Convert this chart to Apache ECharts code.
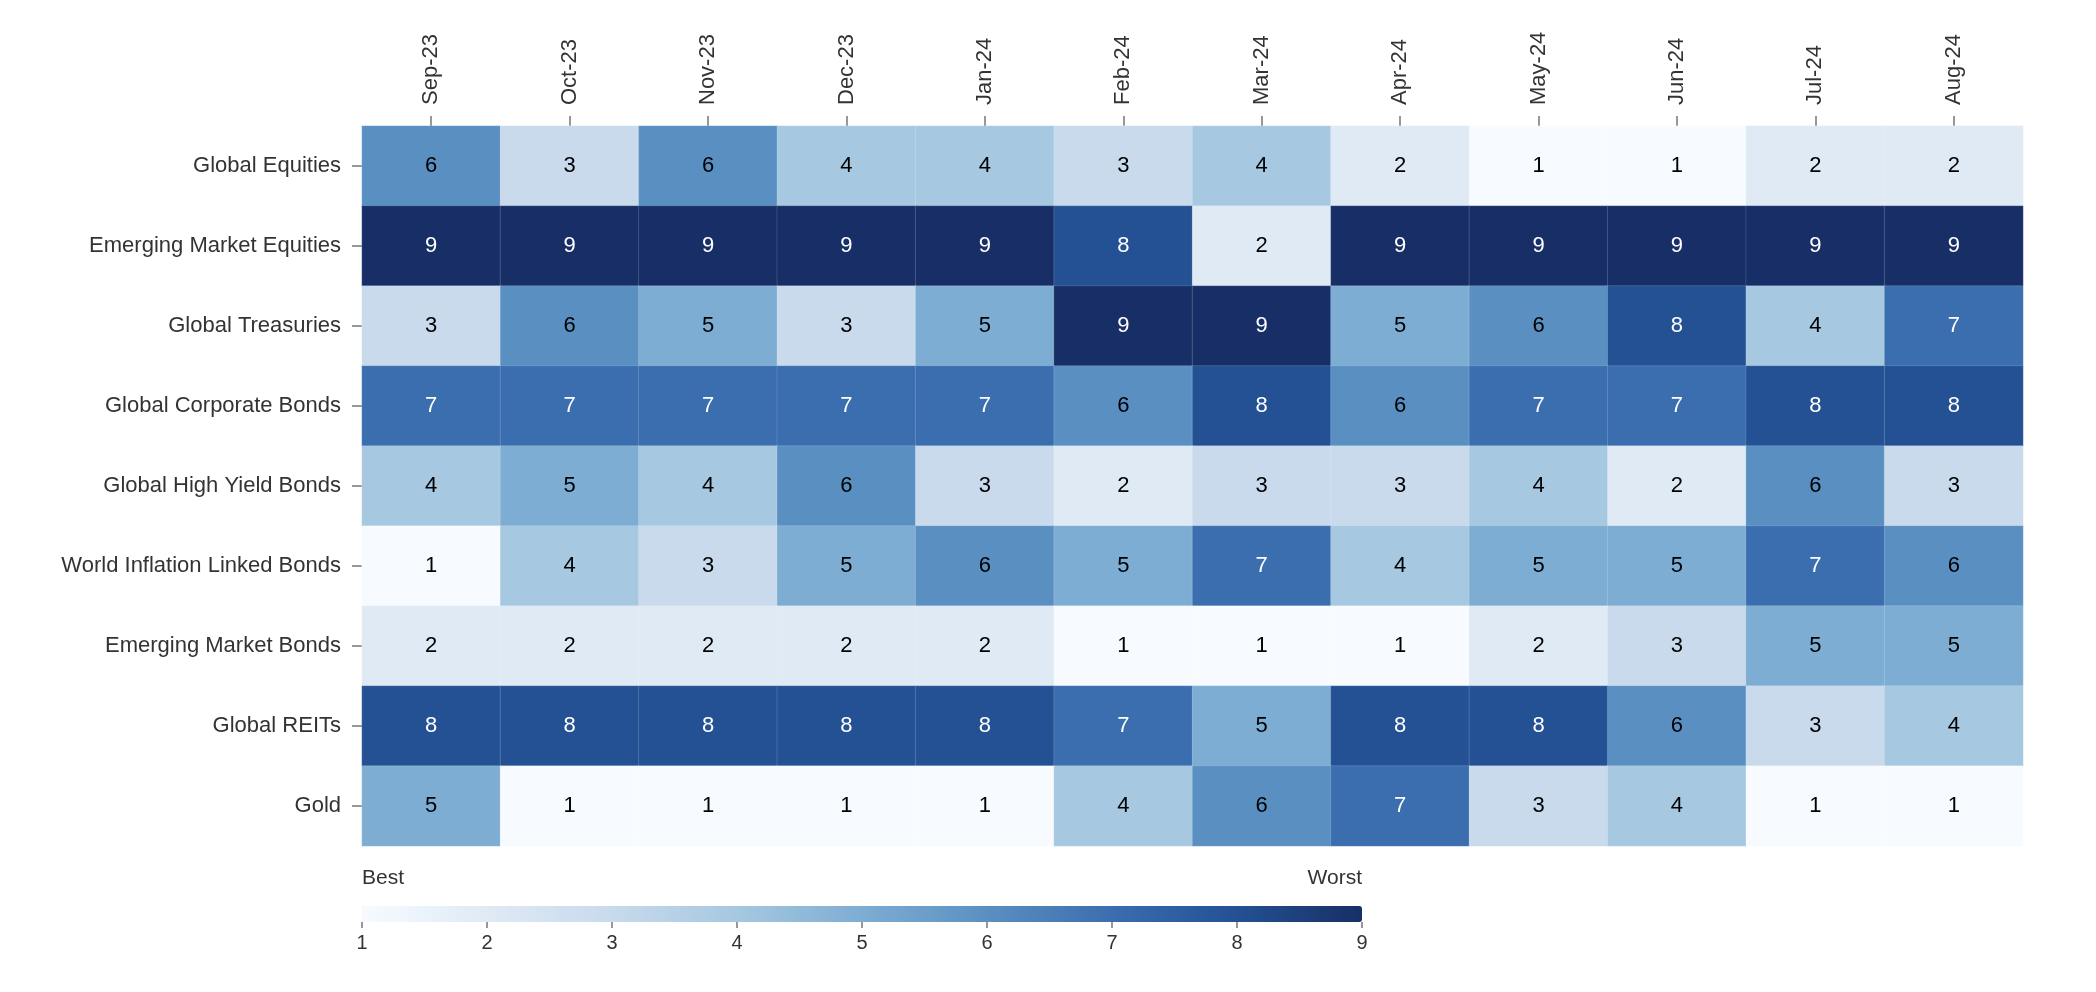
<!DOCTYPE html>
<html>
<head>
<meta charset="utf-8">
<script src="https://cdn.jsdelivr.net/npm/echarts@6/dist/echarts.min.js"></script>
<style>
html,body{margin:0;padding:0;background:#fff;}
#chart{width:2096px;height:992px;}
</style>
</head>
<body>
<div id="chart"></div>
<script>
const months = ['Sep-23','Oct-23','Nov-23','Dec-23','Jan-24','Feb-24','Mar-24','Apr-24','May-24','Jun-24','Jul-24','Aug-24'];
const assets = ['Global Equities','Emerging Market Equities','Global Treasuries','Global Corporate Bonds','Global High Yield Bonds','World Inflation Linked Bonds','Emerging Market Bonds','Global REITs','Gold'];
const globalEquities      = [6,3,6,4,4,3,4,2,1,1,2,2];
const emEquities          = [9,9,9,9,9,8,2,9,9,9,9,9];
const globalTreasuries    = [3,6,5,3,5,9,9,5,6,8,4,7];
const globalCorporate     = [7,7,7,7,7,6,8,6,7,7,8,8];
const globalHighYield     = [4,5,4,6,3,2,3,3,4,2,6,3];
const worldInflation      = [1,4,3,5,6,5,7,4,5,5,7,6];
const emBonds             = [2,2,2,2,2,1,1,1,2,3,5,5];
const globalREITs         = [8,8,8,8,8,7,5,8,8,6,3,4];
const gold                = [5,1,1,1,1,4,6,7,3,4,1,1];
const rows = [globalEquities, emEquities, globalTreasuries, globalCorporate, globalHighYield, worldInflation, emBonds, globalREITs, gold];
const colorbarTicks = [1,2,3,4,5,6,7,8,9];

const palette = ['#f7fbff','#dfeaf5','#c8daec','#a6c8e1','#7eadd3','#5a90c1','#3a6eae','#245193','#172f66'];
const FONT = 'Liberation Sans, Arial, Helvetica, sans-serif';

const data = [];
rows.forEach((row, r) => {
  row.forEach((v, c) => {
    data.push({value: [c, r, v], label: {color: v >= 7 ? '#ffffff' : '#000000'}});
  });
});

const chart = echarts.init(document.getElementById('chart'), null, {renderer: 'canvas'});
chart.setOption({
  backgroundColor: '#ffffff',
  animation: false,
  textStyle: {fontFamily: FONT},
  grid: [
    {left: 362, top: 126, width: 1661, height: 720},
    {left: 362, top: 906, width: 1000, height: 16}
  ],
  xAxis: [
    {
      type: 'category', data: months, position: 'top', gridIndex: 0,
      axisLine: {show: false},
      axisTick: {show: true, length: 10, alignWithLabel: true, lineStyle: {color: '#777', width: 1.5}},
      axisLabel: {rotate: -90, margin: 21, fontSize: 22, color: '#333', fontFamily: FONT},
      splitLine: {show: false}
    },
    {
      type: 'value', gridIndex: 1, min: 1, max: 9, interval: 1, position: 'bottom',
      axisLine: {show: false},
      axisTick: {show: true, length: 6, lineStyle: {color: '#777', width: 1.5}},
      axisLabel: {margin: 11, fontSize: 20, color: '#333', fontFamily: FONT,
        formatter: v => colorbarTicks.includes(v) ? String(v) : ''},
      splitLine: {show: false}
    }
  ],
  yAxis: [
    {
      type: 'category', data: assets, inverse: true, gridIndex: 0,
      axisLine: {show: false},
      axisTick: {show: true, length: 10, alignWithLabel: true, lineStyle: {color: '#777', width: 1.5}},
      axisLabel: {margin: 21, fontSize: 22, color: '#333', fontFamily: FONT},
      splitLine: {show: false}
    },
    {
      type: 'value', gridIndex: 1, min: 0, max: 1, show: false
    }
  ],
  visualMap: {
    type: 'continuous', min: 1, max: 9, seriesIndex: 0,
    orient: 'horizontal', left: 362, top: 906, itemWidth: 16, itemHeight: 1000,
    padding: 0, calculable: false, hoverLink: false, realtime: false,
    showLabel: false, text: null,
    inRange: {color: palette}
  },
  graphic: [
    {type: 'text', left: 362, top: 868, style: {text: 'Best', fontSize: 21, fill: '#333', fontFamily: FONT}},
    {type: 'text', right: 2096 - 1362, top: 868, style: {text: 'Worst', fontSize: 21, fill: '#333', fontFamily: FONT}}
  ],
  series: [{
    type: 'heatmap', xAxisIndex: 0, yAxisIndex: 0,
    data: data,
    itemStyle: {borderColor: 'rgba(255,255,255,0.25)', borderWidth: 0.6},
    label: {show: true, fontSize: 22, fontFamily: FONT, formatter: p => String(p.value[2])},
    emphasis: {disabled: true}
  }]
});
</script>
</body>
</html>
